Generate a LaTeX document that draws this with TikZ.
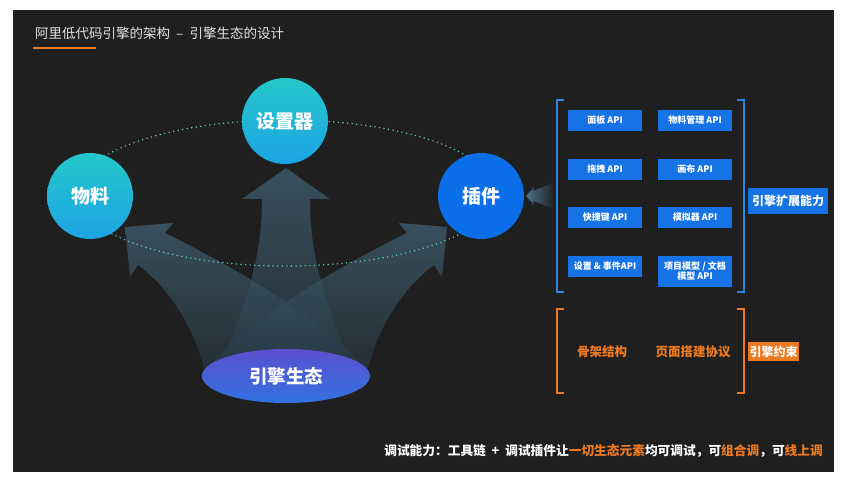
\documentclass[tikz,border=0pt]{standalone}
\usepackage{fontspec}
\setmainfont{Noto Sans CJK SC}
\usetikzlibrary{shapes.geometric}
\definecolor{bg}{HTML}{1F1F1F}
\definecolor{titlec}{HTML}{E2E2E2}
\definecolor{orangec}{HTML}{EC7A22}
\definecolor{apiblue}{HTML}{1673E6}
\definecolor{brblue}{HTML}{2A84E6}
\definecolor{dotc}{HTML}{62CDBE}
\definecolor{arrowtop}{HTML}{4A7088}
\definecolor{arrowbot}{HTML}{263843}
\definecolor{tealtop}{HTML}{26C7CB}
\definecolor{tealbot}{HTML}{1BA4E4}
\definecolor{plugblue}{HTML}{0B6FE9}
\definecolor{ecotop}{HTML}{5B4FCE}
\definecolor{ecobot}{HTML}{3272E2}
\tikzset{
  arrowfill/.style={top color=arrowtop, bottom color=arrowbot, fill opacity=0.6, draw=none},
  bubble/.style={circle, minimum size=86, inner sep=0, text=white, font=\fontsize{19}{20}\selectfont\bfseries},
  apibox/.style={fill=apiblue, text=white, minimum width=74, minimum height=21, inner sep=0, align=center, font=\fontsize{9}{10}\selectfont\bfseries},
  brline/.style={line width=1.4pt},
  orangetxt/.style={text=orangec, font=\fontsize{12.5}{13}\selectfont\bfseries, inner sep=0},
}
\begin{document}
\begin{tikzpicture}[x=1pt,y=-1pt]
\useasboundingbox (0,0) rectangle (846,486);
\fill[white] (0,0) rectangle (846,486);
\fill[bg] (13,10) rectangle (834,472);
% title
\node[anchor=west, inner sep=0, text=titlec, font=\fontsize{13.5}{14}\selectfont] (title) at (35,33) {阿里低代码引擎的架构 ~–~ 引擎生态的设计};
\draw[orangec, line width=2pt] (33,48) -- (96,48);
% arrows
\path[arrowfill] (205,372) .. controls (192,320) and (165,285) .. (138,265) -- (130,277) -- (125,227) -- (173,223) -- (165,233) .. controls (240,270) and (320,318) .. (365,368) -- cycle;
\path[arrowfill] (367,372) .. controls (380,320) and (407,285) .. (434,265) -- (442,277) -- (447,227) -- (399,223) -- (407,233) .. controls (332,270) and (252,318) .. (207,368) -- cycle;
\path[arrowfill] (218,372) .. controls (247,300) and (262,260) .. (262,199) -- (242,199) -- (286,168) -- (330,199) -- (310,199) .. controls (310,260) and (325,300) .. (354,372) -- cycle;
% small arrow toward plugin
\path[left color=arrowtop, right color=bg, draw=none] (526,196) -- (534,187) -- (533,191) -- (555,182) -- (555,209) -- (533,201) -- (534,205) -- cycle;
% dotted orbit
\draw[dotc, line width=1.6pt, line cap=round, dash pattern=on 0pt off 4.6pt] (286,193) ellipse [x radius=210, y radius=73];
% bubbles
\node[bubble, top color=tealtop, bottom color=tealbot] (wuliao) at (90,196) {物料};
\node[bubble, top color=tealtop, bottom color=tealbot] (shezhi) at (285,121) {设置器};
\node[bubble, fill=plugblue] (chajian) at (481,196) {插件};
\node[ellipse, minimum width=168, minimum height=54, inner sep=0, top color=ecotop, bottom color=ecobot, text=white, font=\fontsize{18.5}{20}\selectfont\bfseries] (eco) at (286,376) {引擎生态};
% blue bracket
\draw[brblue, brline] (564,100) -- (557,100) -- (557,292) -- (564,292);
\draw[brblue, brline] (737,100) -- (744,100) -- (744,292) -- (737,292);
\node[apibox] (a1) at (605,120.5) {面板 API};
\node[apibox] (a2) at (695,120.5) {物料管理 API};
\node[apibox] (a3) at (605,169.5) {拖拽 API};
\node[apibox] (a4) at (695,169.5) {画布 API};
\node[apibox] (a5) at (605,217.5) {快捷键 API};
\node[apibox] (a6) at (695,217.5) {模拟器 API};
\node[apibox] (a7) at (605,266.5) {设置 \& 事件API};
\node[apibox, minimum height=31, font=\fontsize{9}{10}\selectfont\bfseries] (a8) at (695,271.5) {项目模型 / 文档\\模型 API};
\node[fill=apiblue, text=white, minimum width=80, minimum height=26, inner sep=0, font=\fontsize{12}{13}\selectfont\bfseries] (ext) at (788,201) {引擎扩展能力};
% orange bracket
\draw[orangec, brline] (564,309) -- (557,309) -- (557,393) -- (564,393);
\draw[orangec, brline] (737,309) -- (744,309) -- (744,393) -- (737,393);
\node[orangetxt] (gujia) at (602,352) {骨架结构};
\node[orangetxt] (xieyi) at (693,352) {页面搭建协议};
\node[fill=orangec, text=white, minimum width=51, minimum height=19, inner sep=0, font=\fontsize{12}{13}\selectfont\bfseries] (yueshu) at (773.5,351.5) {引擎约束};
% bottom line
\node[anchor=east, inner sep=0, text=white, font=\fontsize{12.7}{13}\selectfont\bfseries] (debug) at (823,451) {调试能力：工具链 ~+~ 调试插件让\textcolor{orangec}{一切生态元素}均可调试，可\textcolor{orangec}{组合调}，可\textcolor{orangec}{线上调}};
\end{tikzpicture}
\end{document}
